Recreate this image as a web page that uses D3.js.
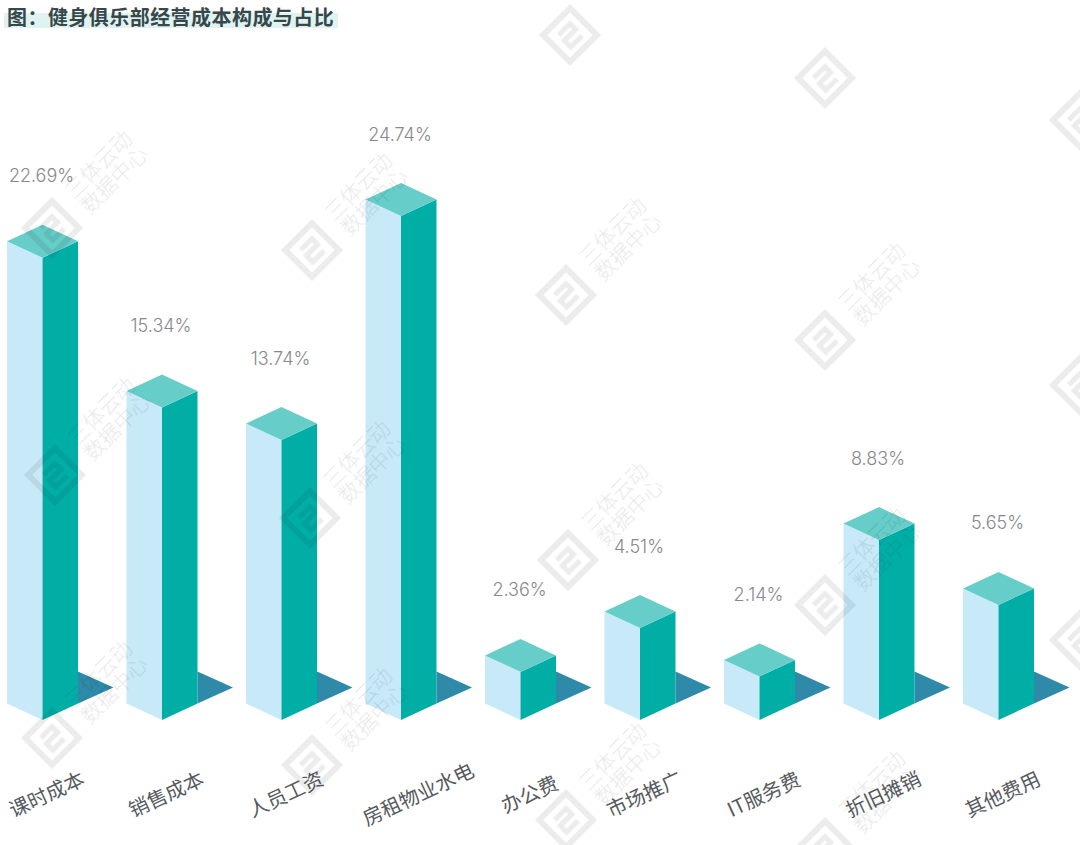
<!DOCTYPE html>
<html><head><meta charset="utf-8">
<script src="https://cdn.jsdelivr.net/npm/d3@7"></script>
<style>html,body{margin:0;padding:0;background:#fff}svg{display:block}
text{font-family:"Noto Sans CJK SC","Noto Sans",sans-serif}
text.pct{font-family:Inter,"Noto Sans",sans-serif;font-weight:300}
g.watermarks{mix-blend-mode:multiply}</style></head>
<body><svg id="c" width="1080" height="845"></svg>
<script>
const categories = ["课时成本","销售成本","人员工资","房租物业水电","办公费","市场推广","IT服务费","折旧摊销","其他费用"];
const shares = [22.69,15.34,13.74,24.74,2.36,4.51,2.14,8.83,5.65];
const titleText = "图\uFF1A健身俱乐部经营成本构成与占比";
const watermarkSpots = [[570,35],[825,78],[1080,120],[52,228],[312,250],[566,295],[825,340],[1080,385],[55,475],[310,518],[568,560],[825,605],[1080,640],[52,738],[312,765],[566,820],[825,848]];

const svg = d3.select("#c");
const x = d3.scalePoint().domain(categories).range([42.5,998.5]);
const y = d3.scaleLinear().domain([0,24.74]).range([720,216]);
const hw = 35.5, dy = 16.5;
const COLORS = {left:"#c8e9f8", right:"#00aea6", top:"#66cdc8", shadow:"#2f89a8", pct:"#85898c", cat:"#555a5e", title:"#37474a"};
const pts = a => a.map(p=>p.join(",")).join(" ");

// title
svg.append("rect").attr("x",4).attr("y",13).attr("width",334).attr("height",15).attr("fill","#dff3f1");
svg.append("text").attr("x",7).attr("y",24.5).attr("font-size",20).attr("letter-spacing",0.45).attr("font-weight",700).attr("fill",COLORS.title).text(titleText);

// bars
const rows = categories.map((c,i)=>({c,v:shares[i]}));
const bars = svg.selectAll("g.bar").data(rows).join("g").attr("class","bar");
bars.append("polygon").attr("fill",COLORS.shadow).attr("points",d=>{
  const r=x(d.c)+hw, b=y(0)-dy;
  return pts([[r,b-32],[r+35.5,b-16],[r,b]]);
});
bars.append("polygon").attr("fill",COLORS.left).attr("points",d=>{
  const c=x(d.c), t=y(d.v);
  return pts([[c-hw,t-dy],[c,t],[c,y(0)],[c-hw,y(0)-dy]]);
});
bars.append("polygon").attr("fill",COLORS.right).attr("points",d=>{
  const c=x(d.c), t=y(d.v);
  return pts([[c+hw,t-dy],[c,t],[c,y(0)],[c+hw,y(0)-dy]]);
});
bars.append("polygon").attr("fill",COLORS.top).attr("points",d=>{
  const c=x(d.c), t=y(d.v);
  return pts([[c,t],[c+hw,t-dy],[c,t-2*dy],[c-hw,t-dy]]);
});
bars.append("text").attr("class","pct").attr("x",d=>x(d.c)-1).attr("y",d=>y(d.v)-2*dy-42.5)
  .attr("text-anchor","middle").attr("font-size",18).attr("fill",COLORS.pct).text(d=>d.v.toFixed(2)+"%");
const nudge = n => n>=6 ? 18 : n===3 ? 10 : 5;
bars.append("text")
  .attr("transform",d=>`translate(${x(d.c)+nudge(d.c.length)},796) rotate(-25)`)
  .attr("text-anchor","middle").attr("dominant-baseline","middle").attr("font-size",20).attr("fill",COLORS.cat).text(d=>d.c);

// watermark layer
const wm = svg.append("g").attr("class","watermarks");
watermarkSpots.forEach(([cx,cy])=>{
  const g = wm.append("g").attr("transform",`translate(${cx},${cy}) rotate(-45)`).attr("opacity",0.55);
  g.append("rect").attr("x",-19).attr("y",-19).attr("width",38).attr("height",38).attr("fill","none").attr("stroke","#dcdcdc").attr("stroke-width",6);
  g.append("path").attr("d","M-8,-8H8V0H-8V9H8").attr("fill","none").attr("stroke","#dcdcdc").attr("stroke-width",5);
  ["三体云动","数据中心"].forEach((t,i)=>{
    g.append("text").attr("x",36).attr("y",-5+i*22).attr("font-size",21).attr("font-weight",300).attr("fill","#d4d4d4").text(t);
  });
});
// a watermark line that would be clipped by the page edge is left out, the logo stays
wm.selectAll("text").each(function(){
  const r=this.getBoundingClientRect();
  if(r.top<0||r.left<0||r.right>1080||r.bottom>845) this.remove();
});
</script></body></html>
